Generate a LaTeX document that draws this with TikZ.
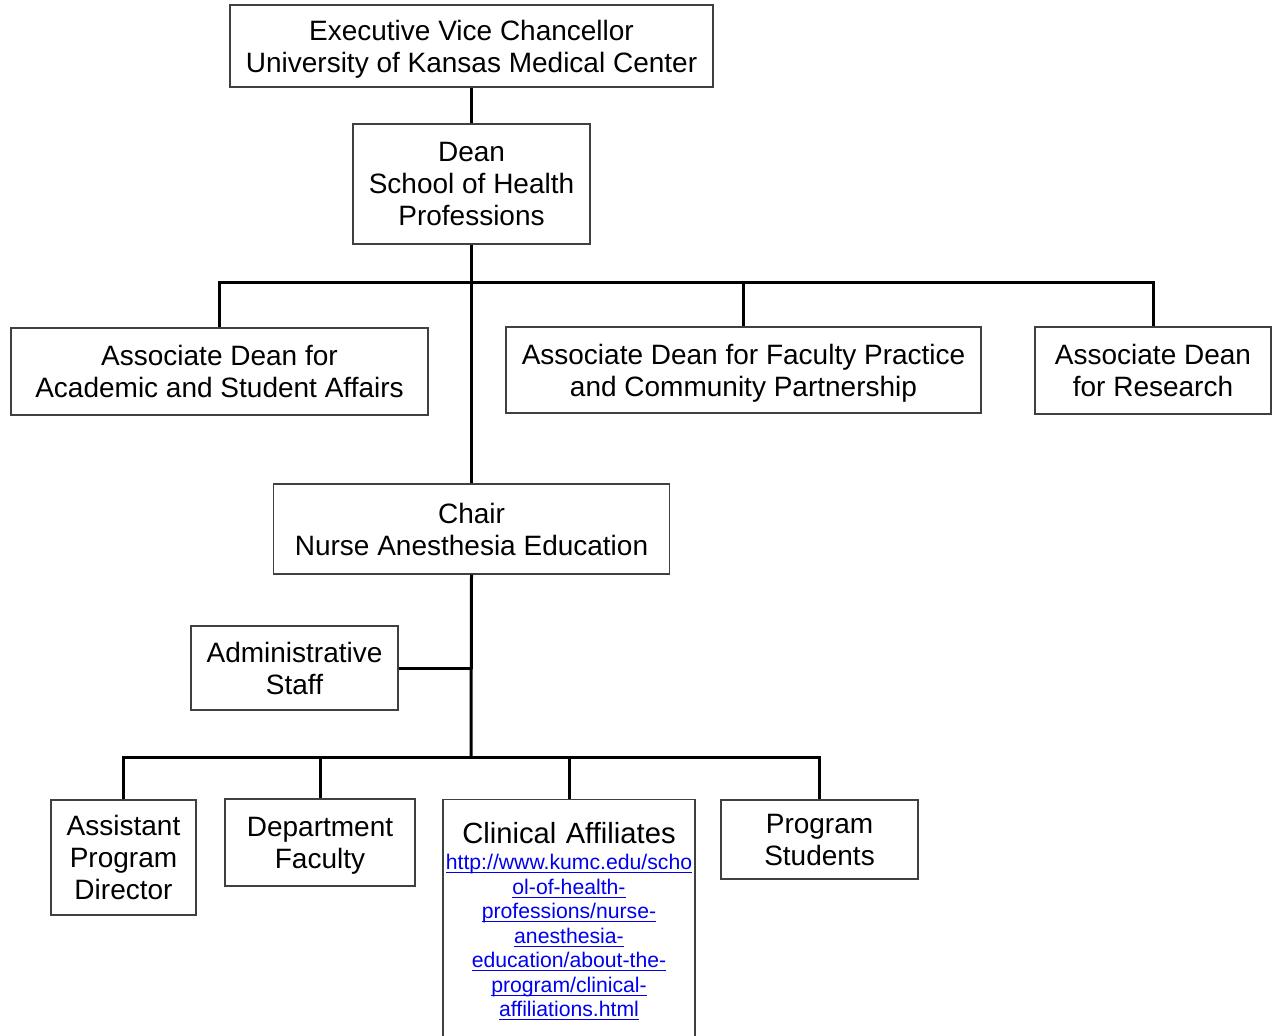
\documentclass[tikz,border=0pt]{standalone}
\usepackage{fontspec}
\setmainfont{Liberation Sans}
\definecolor{linkblue}{RGB}{0,0,238}
\newcommand{\ulink}[1]{\leavevmode\setbox0\hbox{#1}\rlap{\rule[-1.7pt]{\wd0}{0.6pt}}\box0}

\begin{document}
\begin{tikzpicture}[x=0.5pt, y=-0.5pt,
    orgbox/.style={draw=black!75, line width=0.7pt, fill=white, align=center, inner sep=0pt, text depth=0pt, font=\fontsize{14}{16}\selectfont},
    link/.style={line width=1.5pt}]
    \useasboundingbox (0,0) rectangle (1272,1036);

    \node[orgbox, minimum width=241.5pt, minimum height=41pt] (evc) at (471.5,46) {Executive Vice Chancellor\\University of Kansas Medical Center};
    \node[orgbox, minimum width=118.5pt, minimum height=60pt] (dean) at (471.5,184) {Dean\\School of Health\\Professions};
    \node[orgbox, minimum width=208.5pt, minimum height=43.5pt] (acad) at (219.5,371.5) {Associate Dean for\\Academic and Student Affairs};
    \node[orgbox, minimum width=237.5pt, minimum height=43pt] (fac) at (743.5,370) {Associate Dean for Faculty Practice\\and Community Partnership};
    \node[orgbox, minimum width=118pt, minimum height=43.5pt] (res) at (1153,370.5) {Associate Dean\\for Research};
    \node[orgbox, minimum width=198pt, minimum height=45pt] (chair) at (471.5,529) {Chair\\Nurse Anesthesia Education};
    \node[orgbox, minimum width=103.5pt, minimum height=42pt] (admin) at (294.5,668) {Administrative\\Staff};
    \node[orgbox, minimum width=72.5pt, minimum height=57.5pt] (asst) at (123.5,857.5) {Assistant\\Program\\Director};
    \node[orgbox, minimum width=95pt, minimum height=43.5pt] (dept) at (320,842.5) {Department\\Faculty};
    \node[orgbox, anchor=north, text width=126pt, inner ysep=11.5pt, text depth=120pt] (clin) at (569,799) {{\fontsize{14.6}{16}\selectfont Clinical Affiliates}\\[0.75pt]
      \fontsize{10.6}{12.25}\selectfont\color{linkblue}%
      \ulink{http://www.kumc.edu/scho}\\ \ulink{ol-of-health-}\\ \ulink{professions/nurse-}\\ \ulink{anesthesia-}\\
      \ulink{education/about-the-}\\ \ulink{program/clinical-}\\ \ulink{affiliations.html}\par};
    \node[orgbox, minimum width=98.5pt, minimum height=39.5pt] (prog) at (819.5,839.5) {Program\\Students};

    \coordinate (topbus) at (471,283);
    \coordinate (lowbus) at (471,757);

    \draw[link] (evc) -- (dean);
    \draw[link] (dean) -- (chair);
    \draw[link] (acad.north) |- (topbus) -| (res.north);
    \draw[link] (fac.north) -- (fac.north |- topbus);
    \draw[link] (admin.east) -- (admin.east -| chair.south);
    \draw[link] (chair.south) -- (lowbus);
    \draw[link] (asst.north) |- (lowbus) -| (prog.north);
    \draw[link] (dept.north) -- (dept.north |- lowbus);
    \draw[link] (clin.north) -- (clin.north |- lowbus);
\end{tikzpicture}
\end{document}
